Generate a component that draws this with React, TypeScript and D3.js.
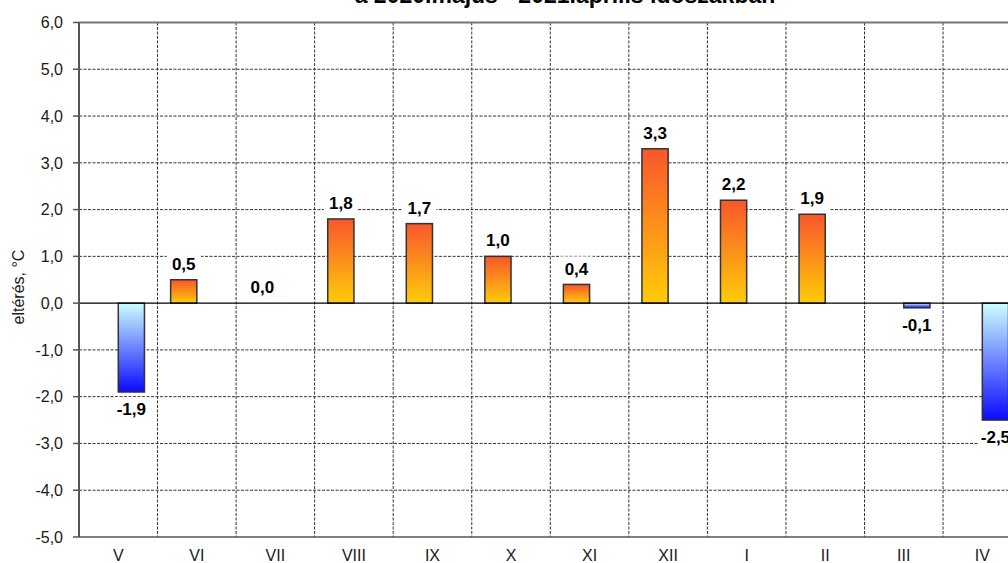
import React from "react";
import * as d3 from "d3";

const categories = ["V", "VI", "VII", "VIII", "IX", "X", "XI", "XII", "I", "II", "III", "IV"];
const warmValues: (number | null)[] = [null, 0.5, 0.0, 1.8, 1.7, 1.0, 0.4, 3.3, 2.2, 1.9, null, null];
const coolValues: (number | null)[] = [-1.9, null, null, null, null, null, null, null, null, null, -0.1, -2.5];
const yTicks = [-5, -4, -3, -2, -1, 0, 1, 2, 3, 4, 5, 6];
const titleText = "a 2020.május - 2021.április időszakban";
const yTitle = "eltérés, °C";

const W = 1008;
const H = 563;
const left = 79;
const top = 22.5;
const bottom = 537;
const bandW = 78.55;
const FONT = "'Liberation Sans', Arial, sans-serif";

const fmt = (v: number) => (Math.abs(v) < 1e-9 ? 0 : v).toFixed(1).replace(".", ",");

export default function App() {
  const x = d3
    .scaleBand<string>()
    .domain(categories)
    .range([left, left + bandW * categories.length])
    .padding(0);
  const y = d3.scaleLinear().domain([-5, 6]).range([bottom, top]);
  const bw = x.bandwidth();
  const barW = bw / 3;
  const right = left + bw * categories.length;

  const labels: { cx: number; cy: number; text: string }[] = [];
  const bars: React.ReactNode[] = [];

  categories.forEach((c, i) => {
    const wv = warmValues[i];
    if (wv !== null) {
      const bx = (x(c) as number) + bw / 6;
      const y0 = y(Math.max(0, wv));
      const y1 = y(Math.min(0, wv));
      if (wv !== 0) {
        bars.push(
          <rect key={"w" + c} x={bx} y={y0} width={barW} height={y1 - y0} fill="url(#warm)" stroke="#333" strokeWidth={1.5} />
        );
      }
      labels.push({ cx: bx + barW / 2, cy: y0 - 16, text: fmt(wv) });
    }
    const cv = coolValues[i];
    if (cv !== null) {
      const bx = (x(c) as number) + bw / 2;
      const y0 = y(0);
      const y1 = y(cv);
      bars.push(
        <rect key={"c" + c} x={bx} y={y0} width={barW} height={y1 - y0} fill="url(#cool)" stroke="#333" strokeWidth={1.5} />
      );
      labels.push({ cx: bx + barW / 2, cy: y1 + 17, text: fmt(cv) });
    }
  });

  return (
    <>
      <style>{"body{margin:0;overflow:hidden;background:#fff}"}</style>
      <svg width={W} height={H} style={{ display: "block", background: "#fff" }} fontFamily={FONT}>
        <defs>
          <linearGradient id="warm" x1="0" y1="0" x2="0" y2="1">
            <stop offset="0" stopColor="#F9562C" />
            <stop offset="1" stopColor="#FFCC08" />
          </linearGradient>
          <linearGradient id="cool" x1="0" y1="0" x2="0" y2="1">
            <stop offset="0" stopColor="#CCFFFF" />
            <stop offset="1" stopColor="#0A0AFF" />
          </linearGradient>
        </defs>

        <text x={565} y={3} textAnchor="middle" fontSize={23} fontWeight="bold" fill="#000">
          {titleText}
        </text>

        {/* horizontal gridlines */}
        {yTicks
          .filter((t) => t !== 0 && t !== -5 && t !== 6)
          .map((t) => (
            <line key={"hg" + t} x1={left} x2={right} y1={y(t)} y2={y(t)} stroke="#333" strokeWidth={1} strokeDasharray="3,1.5" />
          ))}
        {/* vertical gridlines */}
        {categories.slice(1).map((c) => (
          <line key={"vg" + c} x1={x(c)} x2={x(c)} y1={top} y2={bottom} stroke="#333" strokeWidth={1} strokeDasharray="3,1.5" />
        ))}

        {/* plot border */}
        <line x1={left} x2={right} y1={top} y2={top} stroke="#777" strokeWidth={2} />
        <line x1={left} x2={right} y1={bottom} y2={bottom} stroke="#555" strokeWidth={1.5} />

        {bars}

        {/* zero line */}
        <line x1={left} x2={right} y1={y(0)} y2={y(0)} stroke="#000" strokeWidth={1.2} />

        {/* y axis */}
        <line x1={left} x2={left} y1={top} y2={bottom} stroke="#555" strokeWidth={2} />
        {yTicks.map((t) => (
          <g key={"yt" + t}>
            <line x1={left - 6} x2={left} y1={y(t)} y2={y(t)} stroke="#555" strokeWidth={1.5} />
            <text x={63} y={y(t)} dy="0.36em" textAnchor="end" fontSize={16} fill="#1a1a1a">
              {fmt(t)}
            </text>
          </g>
        ))}

        {/* x labels */}
        {categories.map((c) => (
          <text key={"xl" + c} x={(x(c) as number) + bw / 2} y={555} dy="0.36em" textAnchor="middle" fontSize={16} fill="#1a1a1a">
            {c}
          </text>
        ))}

        {/* y title */}
        <text transform={`translate(24,287) rotate(-90)`} textAnchor="middle" fontSize={16} fill="#1a1a1a">
          {yTitle}
        </text>

        {/* data labels */}
        {labels.map((l, i) => (
          <g key={"lb" + i}>
            <rect x={l.cx - 17} y={l.cy - 12} width={34} height={24} fill="#fff" />
            <text x={l.cx} y={l.cy} dy="0.36em" textAnchor="middle" fontSize={17} fontWeight="bold" fill="#000">
              {l.text}
            </text>
          </g>
        ))}
      </svg>
    </>
  );
}
